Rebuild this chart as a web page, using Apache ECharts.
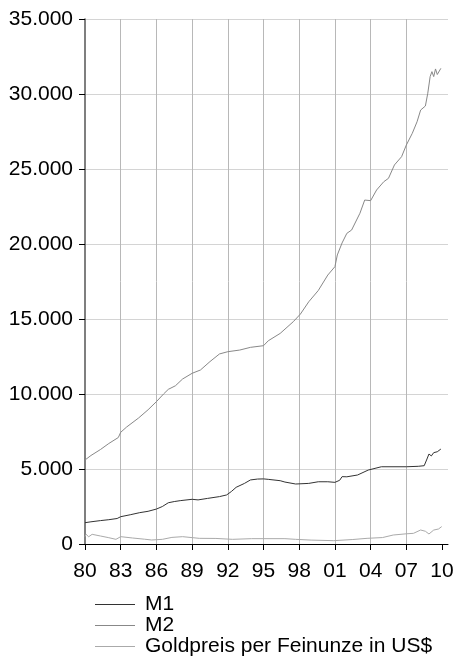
<!DOCTYPE html>
<html>
<head>
<meta charset="utf-8">
<script src="https://cdn.jsdelivr.net/npm/echarts@6/dist/echarts.min.js"></script>
<style>html,body{margin:0;padding:0;background:#fff}#c{width:458px;height:656px}</style>
</head>
<body>
<div id="c"></div>
<script>
var xTickValues = [1980,1983,1986,1989,1992,1995,1998,2001,2004,2007,2010];
var seriesNames = ['M1','M2','Goldpreis per Feinunze in US$'];

var m1Years = [1980.0,1980.5,1981.3,1982.0,1982.7,1983.0,1983.8,1984.6,1985.3,1986.0,1986.5,1987.0,1987.5,1988.0,1989.0,1989.5,1990.3,1991.3,1991.9,1992.3,1992.7,1993.4,1993.9,1994.5,1995.0,1995.4,1996.4,1996.8,1997.7,1998.8,1999.6,2000.4,2001.0,2001.4,2001.6,2001.7,2002.0,2002.9,2003.8,2004.9,2007.0,2008.0,2008.5,2008.7,2008.9,2009.1,2009.3,2009.6,2009.9];
var m1Values = [1420,1480,1560,1620,1700,1820,1950,2090,2180,2330,2500,2750,2830,2890,2980,2940,3040,3160,3270,3500,3780,4040,4270,4330,4340,4310,4220,4130,4000,4040,4150,4150,4110,4250,4490,4420,4480,4600,4930,5150,5150,5180,5220,5600,6000,5870,6090,6150,6330];

var m2Years = [1980.0,1980.5,1981.3,1982.0,1982.8,1983.0,1983.5,1984.5,1985.3,1986.0,1986.6,1987.0,1987.6,1988.2,1989.0,1989.7,1990.5,1991.3,1992.0,1993.0,1993.9,1995.0,1995.4,1996.4,1997.5,1998.1,1998.8,1999.6,2000.4,2001.0,2001.2,2001.6,2002.0,2002.4,2003.1,2003.5,2004.0,2004.5,2005.1,2005.5,2006.0,2006.6,2007.0,2007.5,2007.9,2008.2,2008.6,2008.8,2009.0,2009.15,2009.3,2009.45,2009.6,2009.9];
var m2Values = [5600,5900,6300,6700,7100,7450,7800,8400,8950,9490,10000,10310,10550,11000,11380,11600,12160,12670,12820,12930,13110,13220,13550,14040,14820,15330,16150,16900,17930,18490,19270,20070,20710,20930,22050,22930,22890,23600,24150,24380,25270,25820,26600,27380,28150,28930,29200,30050,31160,31490,31160,31670,31300,31710];

var goldYears = [1980.0,1980.1,1980.3,1980.6,1981.3,1982.0,1982.6,1983.0,1984.0,1985.0,1985.6,1986.5,1987.3,1988.2,1989.6,1991.0,1992.4,1994.0,1996.8,1997.7,1999.0,2000.9,2002.5,2003.7,2005.0,2005.9,2007.0,2007.6,2008.2,2008.6,2008.9,2009.3,2009.7,2009.97];
var goldValues = [500,650,480,645,533,420,311,489,400,320,267,311,440,489,378,370,311,356,356,311,260,222,300,378,430,600,680,711,933,850,667,930,1000,1160];

function pairs(xs, ys){ return xs.map(function(x,i){ return [x, ys[i]]; }); }

var chart = echarts.init(document.getElementById('c'), null, {renderer:'canvas'});
var font = '"Liberation Sans", Arial, sans-serif';
chart.setOption({
  animation:false,
  backgroundColor:'#fff',
  grid:{left:85, right:10, top:19, bottom:112, containLabel:false},
  legend:{
    orient:'vertical', left:95, top:594, padding:0, icon:'rect', itemWidth:40, itemHeight:1, itemGap:0,
    height:70,
    textStyle:{fontSize:21, fontFamily:font, color:'#000', lineHeight:19, padding:[0,0,0,5]},
    data: seriesNames
  },
  xAxis:{
    type:'value', min:1980, max:2010.5, interval:3,
    axisLine:{lineStyle:{color:'#000', width:1}},
    axisTick:{show:true, length:6, lineStyle:{color:'#000'}, customValues: xTickValues},
    axisLabel:{fontSize:21, fontFamily:font, color:'#000', margin:17, customValues: xTickValues,
      formatter:function(v){ var y = Math.round(v)%100; return (y<10?'0':'')+y; }},
    splitLine:{show:true, showMinLine:false, showMaxLine:false, lineStyle:{color:'#b8b8b8', width:1}}
  },
  yAxis:{
    type:'value', min:0, max:35000, interval:5000,
    axisLine:{show:true, lineStyle:{color:'#555', width:1.5}},
    axisTick:{show:true, length:6, lineStyle:{color:'#000'}},
    axisLabel:{fontSize:21, fontFamily:font, color:'#000', margin:12,
      formatter:function(v){ return String(v).replace(/\B(?=(\d{3})+(?!\d))/g,'.'); }},
    splitLine:{show:true, showMinLine:false, lineStyle:{color:'#d4d4d4', width:1}}
  },
  series:[
    {name:seriesNames[0], type:'line', data:pairs(m1Years,m1Values), showSymbol:false, symbol:'none',
      lineStyle:{color:'#333', width:1}, itemStyle:{color:'#333'}, z:4},
    {name:seriesNames[1], type:'line', data:pairs(m2Years,m2Values), showSymbol:false, symbol:'none',
      lineStyle:{color:'#888', width:1}, itemStyle:{color:'#888'}, z:3},
    {name:seriesNames[2], type:'line', data:pairs(goldYears,goldValues), showSymbol:false, symbol:'none',
      lineStyle:{color:'#aaa', width:1}, itemStyle:{color:'#aaa'}, z:2}
  ]
});
</script>
</body>
</html>
